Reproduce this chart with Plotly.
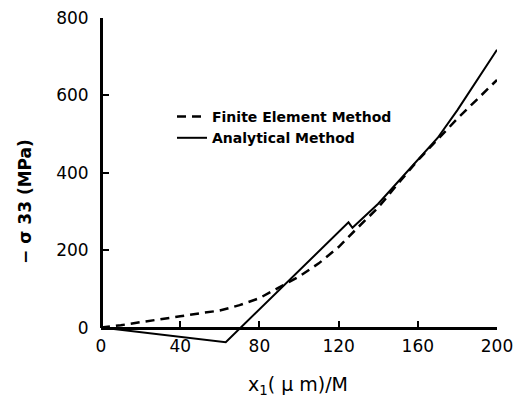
import plotly.graph_objects as go

# Finite Element Method (dashed)
x_fem = [0, 10, 20, 30, 40, 50, 60, 70, 80, 90, 100, 110, 120, 130, 140, 150, 160, 170, 180, 190, 200]
y_fem = [0, 6, 14, 21, 29, 37, 44, 58, 76, 104, 132, 166, 208, 260, 310, 372, 432, 486, 540, 590, 640]

# Analytical Method (solid)
x_ana = [0, 63, 125, 127, 140, 150, 160, 170, 180, 190, 200]
y_ana = [0, -38, 272, 258, 320, 376, 434, 490, 562, 640, 718]

x_ticks = [0, 40, 80, 120, 160, 200]
y_ticks = [0, 200, 400, 600, 800]

Y_MIN, Y_MAX = -45, 800
f0 = (0 - Y_MIN) / (Y_MAX - Y_MIN)

FONT = "DejaVu Sans"

# page body has an 8px margin, so the figure is sized/offset accordingly
W, H = 518, 394
ML, MR, MT, MB = 93, 29, 10, 57
PW, PH = W - ML - MR, H - MT - MB


def px_x(px):
    return (px - 8 - ML) / PW


def px_y(py):
    return 1 - (py - 8 - MT) / PH


fig = go.Figure()
fig.add_trace(go.Scatter(x=x_fem, y=y_fem, mode="lines", name="Finite Element Method",
                         line=dict(color="black", width=2.5, dash="9px,6px")))
fig.add_trace(go.Scatter(x=x_ana, y=y_ana, mode="lines", name="Analytical Method",
                         line=dict(color="black", width=2)))
fig.add_trace(go.Scatter(x=[], y=[], xaxis="x", yaxis="y2", showlegend=False, hoverinfo="skip"))

fig.update_layout(
    template="none",
    width=W, height=H,
    margin=dict(l=ML, r=MR, t=MT, b=MB, autoexpand=False),
    paper_bgcolor="white", plot_bgcolor="rgba(0,0,0,0)",
    font=dict(family=FONT, color="black"),
    xaxis=dict(range=[0, 200], anchor="free", position=f0, showline=True, linewidth=3,
               linecolor="black", ticks="inside", ticklen=6, tickwidth=2, tickcolor="black",
               tickvals=x_ticks, showgrid=False, zeroline=False, automargin=False,
               ticklabeloverflow="allow",
               tickfont=dict(size=17, family=FONT), ticklabelstandoff=2),
    yaxis=dict(range=[Y_MIN, Y_MAX], domain=[0, 1], visible=False, showgrid=False,
               zeroline=False, automargin=False),
    yaxis2=dict(range=[0, Y_MAX], domain=[f0, 1], anchor="free", position=0, showline=True,
                linewidth=3, linecolor="black", ticks="inside", ticklen=6, tickwidth=2,
                tickcolor="black", tickvals=y_ticks, showgrid=False, zeroline=False,
                automargin=False, ticklabeloverflow="allow",
                tickfont=dict(size=17, family=FONT), ticklabelstandoff=8),
    legend=dict(x=px_x(172), y=px_y(101), xanchor="left", yanchor="top",
                bgcolor="rgba(0,0,0,0)", borderwidth=0,
                font=dict(size=14, family=FONT, weight="bold"), tracegroupgap=0),
    showlegend=True,
    annotations=[
        dict(text="− σ 33 (MPa)", x=px_x(25), y=px_y(202), xanchor="center", yanchor="middle",
             xref="paper", yref="paper", textangle=-90, showarrow=False,
             font=dict(size=17, family=FONT, weight="bold")),
        dict(text="x<sub>1</sub>( μ m)/M", x=px_x(298), y=px_y(385), xanchor="center",
             yanchor="middle", xref="paper", yref="paper", showarrow=False,
             font=dict(size=19, family=FONT)),
    ],
)

fig.write_html("out.html")
